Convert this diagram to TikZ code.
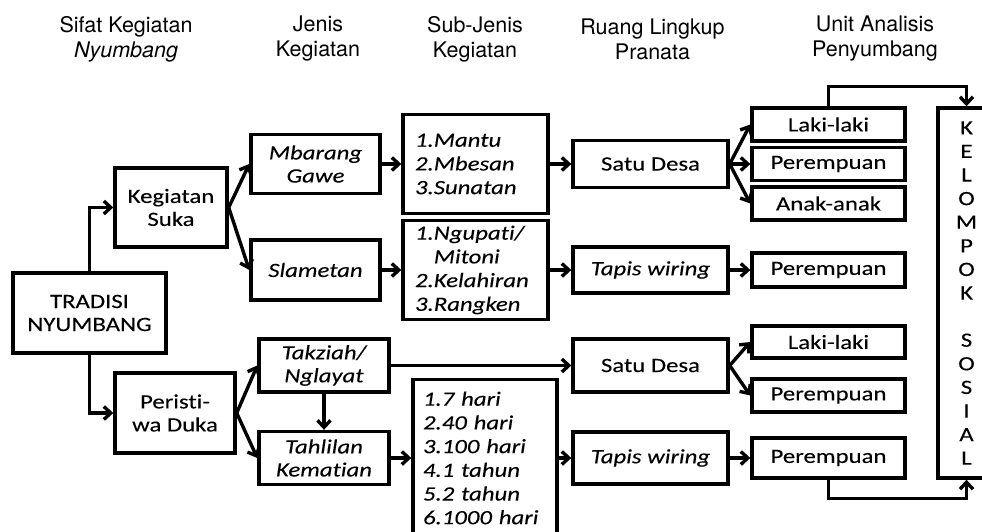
\documentclass[tikz,border=0pt]{standalone}
\usepackage{fontspec}
\setmainfont{Carlito}[FakeStretch=1.22, FakeBold=0.12, Ligatures=NoCommon]
\newfontfamily\headfont{TeX Gyre Heros}
\usetikzlibrary{arrows.meta}
\tikzset{
  bx/.style={draw, line width=3.4pt, inner sep=0pt, align=center, font=\fontsize{20.3}{23}\selectfont},
  bxi/.style={bx, font=\fontsize{20.3}{23}\selectfont\itshape},
  lst/.style={bx, align=left, font=\fontsize{20.3}{23.7}\selectfont\itshape},
  ar/.style={line width=3.4pt, -{Straight Barb[length=7pt,width=13pt]}},
  hd/.style={font=\headfont\fontsize{21.5}{25}\selectfont, align=center, inner sep=0pt},
}
\begin{document}
\begin{tikzpicture}[x=1pt,y=-1pt]
\useasboundingbox (0,0) rectangle (982,532);
\clip (0,0) rectangle (982,532);
% headers
\node[hd] (h1) at (126,39) {Sifat Kegiatan\\\textit{Nyumbang}};
\node[hd] (h2) at (318,39) {Jenis\\Kegiatan};
\node[hd] (h3) at (475,39) {Sub-Jenis\\Kegiatan};
\node[hd] (h4) at (652.5,39) {Ruang Lingkup\\Pranata};
\node[hd] (h5) at (875,39) {Unit Analisis\\Penyumbang};
% column 1-2
\node[bx, minimum width=153pt, minimum height=80pt] (trad) at (89.5,313) {TRADISI\\NYUMBANG};
\node[bx, minimum width=112pt, minimum height=79pt] (suka) at (171,207.5) {Kegiatan\\Suka};
\node[bx, minimum width=120pt, minimum height=80pt] (duka) at (175,413) {Peristi-\\wa Duka};
% column 3
\node[bxi, minimum width=129pt, minimum height=59pt] (mbar) at (315.5,164) {Mbarang\\Gawe};
\node[bxi, minimum width=129pt, minimum height=60pt] (slam) at (315.5,270) {Slametan};
\node[bxi, minimum width=130pt, minimum height=53pt] (takz) at (324,365.5) {Takziah/\\Nglayat};
\node[bxi, minimum width=130pt, minimum height=53pt] (tahl) at (324,458) {Tahlilan\\Kematian};
% column 4
\node[lst, minimum width=145pt, minimum height=99pt, text width=121pt] (sub1) at (475.5,164) {1.Mantu\\2.Mbesan\\3.Sunatan};
\node[lst, minimum width=145pt, minimum height=99pt, text width=121pt] (sub2) at (475.5,270) {1.Ngupati/\\\phantom{1.}Mitoni\\2.Kelahiran\\3.Rangken};
\node[lst, minimum width=144pt, minimum height=157pt, text width=124pt] (hari) at (485,458) {1.7 hari\\2.40 hari\\3.100 hari\\4.1 tahun\\5.2 tahun\\6.1000 hari};
% column 5
\node[bx, minimum width=155pt, minimum height=47pt] (desa1) at (650.5,164) {Satu Desa};
\node[bxi, minimum width=155pt, minimum height=46pt] (tapis1) at (650.5,270) {Tapis wiring};
\node[bx, minimum width=155pt, minimum height=53pt] (desa2) at (650.5,365.5) {Satu Desa};
\node[bxi, minimum width=155pt, minimum height=52pt] (tapis2) at (650.5,458) {Tapis wiring};
% column 6
\node[bx, minimum width=153pt, minimum height=33pt] (laki1) at (828.5,124.5) {Laki-laki};
\node[bx, minimum width=153pt, minimum height=33pt] (per1) at (828.5,164) {Perempuan};
\node[bx, minimum width=153pt, minimum height=33pt] (anak) at (828.5,203.5) {Anak-anak};
\node[bx, minimum width=153pt, minimum height=34pt] (per2) at (828.5,270) {Perempuan};
\node[bx, minimum width=153pt, minimum height=32pt] (laki2) at (828.5,342) {Laki-laki};
\node[bx, minimum width=153pt, minimum height=33pt] (per3) at (828.5,395.5) {Perempuan};
\node[bx, minimum width=153pt, minimum height=40pt] (per4) at (828.5,458) {Perempuan};
% kelompok sosial
\node[bx, minimum width=57pt, minimum height=370pt, font=\fontsize{20.3}{23.6}\selectfont] (kel) at (966.5,293) {K\\E\\L\\O\\M\\P\\O\\K\\\mbox{}\\S\\O\\S\\I\\A\\L};
% connectors
\draw[ar] (trad.north) |- (suka.west);
\draw[ar] (trad.south) |- (duka.west);
\draw[ar] (suka.east) -- (mbar.west);
\draw[ar] (suka.east) -- (slam.west);
\draw[ar] (duka.east) -- (takz.west);
\draw[ar] (duka.east) -- (tahl.west);
\draw[ar] (takz.south) -- (tahl.north);
\draw[ar] (mbar.east) -- (sub1.west);
\draw[ar] (slam.east) -- (sub2.west);
\draw[ar] (tahl.east) -- (hari.west);
\draw[ar] (sub1.east) -- (desa1.west);
\draw[ar] (sub2.east) -- (tapis1.west);
\draw[ar] (takz.east) -- (desa2.west);
\draw[ar] (hari.east) -- (tapis2.west);
\draw[ar] (desa1.east) -- (laki1.west);
\draw[ar] (desa1.east) -- (per1.west);
\draw[ar] (desa1.east) -- (anak.west);
\draw[ar] (tapis1.east) -- (per2.west);
\draw[ar] (desa2.east) -- (laki2.west);
\draw[ar] (desa2.east) -- (per3.west);
\draw[ar] (tapis2.east) -- (per4.west);
\draw[ar] (laki1.north) -- ++(0,-20) -| (kel.north);
\draw[ar] (per4.south) -- ++(0,19) -| (kel.south);
\end{tikzpicture}
\end{document}
